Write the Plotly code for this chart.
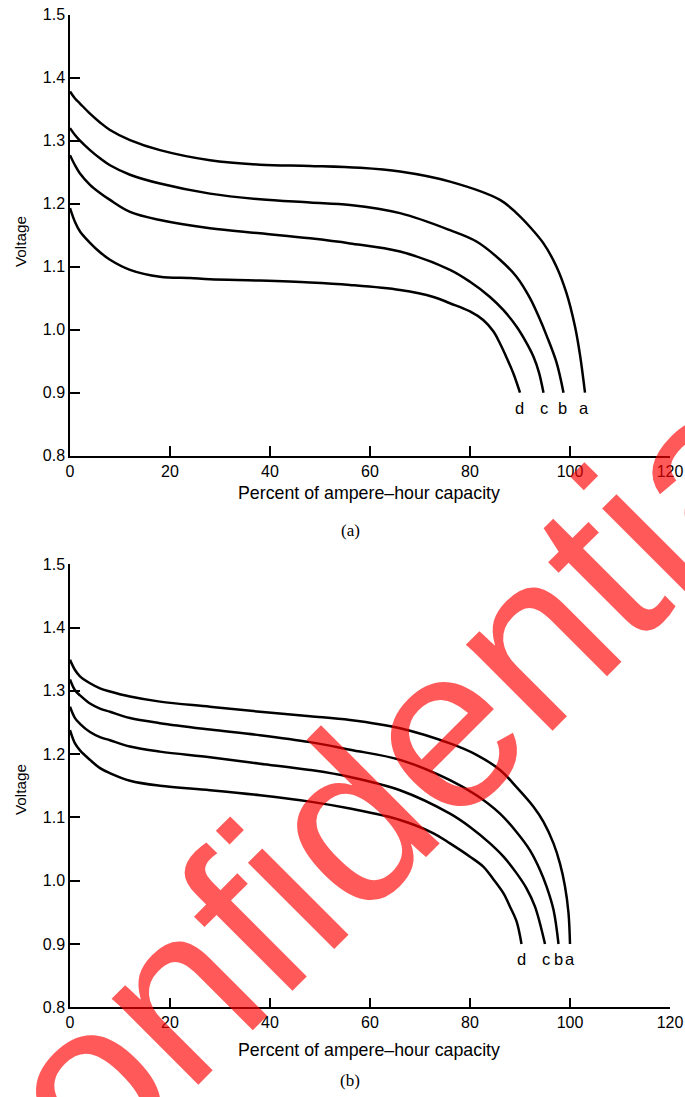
import plotly.graph_objects as go

# ---- Panel (a) data ----
a_top_x = [0, 1, 2, 4, 6, 8, 12, 18, 28, 38, 48, 58, 66, 76, 86, 89.3, 92, 94.7, 97.3, 99.3, 101, 102, 103]
a_top_y = [1.378, 1.367, 1.359, 1.343, 1.329, 1.317, 1.301, 1.285, 1.269, 1.262, 1.260, 1.257, 1.251, 1.235,
           1.206, 1.185, 1.163, 1.137, 1.100, 1.058, 1.005, 0.960, 0.90]
b_top_x = [0, 1, 2, 4, 6, 8, 12, 18, 28, 38, 48, 56, 66, 76, 81.3, 86, 89.3, 92, 94, 95.3, 97.3, 98.7]
b_top_y = [1.320, 1.309, 1.300, 1.285, 1.272, 1.261, 1.246, 1.232, 1.216, 1.207, 1.202, 1.198, 1.185, 1.158,
           1.140, 1.111, 1.084, 1.050, 1.016, 0.991, 0.948, 0.90]
c_top_x = [0, 1, 2, 4, 6, 8, 12, 18, 28, 38, 48, 56, 66, 76, 80, 84, 86.7, 89.3, 91.3, 92.7, 93.8, 94.7]
c_top_y = [1.277, 1.261, 1.248, 1.230, 1.217, 1.206, 1.187, 1.174, 1.161, 1.153, 1.145, 1.137, 1.124, 1.095,
           1.076, 1.052, 1.031, 1.005, 0.979, 0.957, 0.932, 0.90]
d_top_x = [0, 1, 2, 4, 6, 8, 12, 18, 24, 28, 38, 48, 56, 66, 72.7, 76, 80, 82.7, 84.7, 86, 87.3, 88.7, 90]
d_top_y = [1.193, 1.171, 1.156, 1.138, 1.123, 1.111, 1.095, 1.084, 1.082, 1.080, 1.078, 1.075, 1.071, 1.063,
           1.052, 1.042, 1.029, 1.015, 0.997, 0.978, 0.956, 0.930, 0.90]

# ---- Panel (b) data ----
a_bot_x = [0, 1, 2, 4, 6, 8, 12, 18, 28, 38, 48, 56, 66, 76, 81.3, 86, 89.3, 92.7, 94.7, 96.7, 98, 99, 99.7, 100]
a_bot_y = [1.349, 1.333, 1.323, 1.312, 1.304, 1.299, 1.291, 1.283, 1.275, 1.267, 1.260, 1.254, 1.241, 1.217,
           1.199, 1.175, 1.148, 1.117, 1.093, 1.059, 1.027, 0.991, 0.949, 0.90]
b_bot_x = [0, 1, 2, 4, 6, 8, 12, 18, 28, 38, 48, 56, 66, 76, 81.3, 86, 89.3, 92, 94, 95.3, 96.7, 97.7]
b_bot_y = [1.318, 1.301, 1.293, 1.280, 1.272, 1.267, 1.257, 1.249, 1.239, 1.230, 1.219, 1.207, 1.191, 1.159,
           1.135, 1.106, 1.077, 1.048, 1.017, 0.991, 0.954, 0.90]
c_bot_x = [0, 1, 2, 4, 6, 8, 12, 18, 28, 38, 48, 56, 66, 76, 80, 84, 86.7, 89.3, 91.3, 93, 95]
c_bot_y = [1.275, 1.257, 1.248, 1.235, 1.227, 1.222, 1.212, 1.204, 1.195, 1.185, 1.175, 1.164, 1.143, 1.106,
           1.085, 1.059, 1.038, 1.012, 0.988, 0.959, 0.90]
d_bot_x = [0, 1, 2, 4, 6, 8, 12, 18, 28, 38, 48, 56, 66, 72.7, 76, 80, 82.7, 84.7, 86.7, 88, 89.3, 90.3]
d_bot_y = [1.238, 1.217, 1.206, 1.191, 1.178, 1.170, 1.158, 1.150, 1.143, 1.135, 1.125, 1.114, 1.096, 1.075,
           1.059, 1.038, 1.022, 1.002, 0.980, 0.959, 0.936, 0.90]

curve_names = ["a", "b", "c", "d"]
label_y = 0.876
top_label_x = [102.8, 98.5, 94.8, 89.9]
bot_label_x = [100.0, 97.7, 95.2, 90.3]

x_ticks = [0, 20, 40, 60, 80, 100, 120]
y_ticks = [0.8, 0.9, 1.0, 1.1, 1.2, 1.3, 1.4, 1.5]

W, H = 685, 1097
FONT = "Liberation Sans, Arial, Helvetica, sans-serif"

fig = go.Figure()
top_sets = [(a_top_x, a_top_y), (b_top_x, b_top_y), (c_top_x, c_top_y), (d_top_x, d_top_y)]
bot_sets = [(a_bot_x, a_bot_y), (b_bot_x, b_bot_y), (c_bot_x, c_bot_y), (d_bot_x, d_bot_y)]
for name, (xs, ys) in zip(curve_names, top_sets):
    fig.add_trace(go.Scatter(x=xs, y=ys, mode="lines", name=name, xaxis="x", yaxis="y",
                             line=dict(color="black", width=2.5, shape="spline", smoothing=1.0),
                             showlegend=False))
for name, (xs, ys) in zip(curve_names, bot_sets):
    fig.add_trace(go.Scatter(x=xs, y=ys, mode="lines", name=name, xaxis="x2", yaxis="y2",
                             line=dict(color="black", width=2.5, shape="spline", smoothing=1.0),
                             showlegend=False))

def px_x(p):
    return p / W

def px_y(p):
    return 1 - p / H

axis_common = dict(showline=True, linecolor="black", linewidth=1.5, ticks="inside", ticklen=10,
                   tickwidth=1.5, tickcolor="black", showgrid=False, zeroline=False,
                   tickfont=dict(family=FONT, size=16, color="black"), automargin=False)

fig.update_layout(
    width=W, height=H,
    margin=dict(l=0, r=0, t=0, b=0),
    paper_bgcolor="white", plot_bgcolor="white",
    xaxis=dict(domain=[px_x(70), px_x(670)], range=[0, 120], tickvals=x_ticks, anchor="y", **axis_common),
    yaxis=dict(domain=[px_y(455.7), px_y(14.7)], range=[0.8, 1.5], tickvals=y_ticks, tickformat=".1f",
               anchor="x", **axis_common),
    xaxis2=dict(domain=[px_x(70), px_x(670)], range=[0, 120], tickvals=x_ticks, anchor="y2", **axis_common),
    yaxis2=dict(domain=[px_y(1007.3), px_y(564.3)], range=[0.8, 1.5], tickvals=y_ticks, tickformat=".1f",
                anchor="x2", **axis_common),
)

ann = []
for name, lx in zip(curve_names, top_label_x):
    ann.append(dict(x=lx, y=label_y, xref="x", yref="y", text=name, showarrow=False,
                    xanchor="center", yanchor="middle",
                    font=dict(family=FONT, size=16.5, color="black")))
for name, lx in zip(curve_names, bot_label_x):
    ann.append(dict(x=lx, y=label_y, xref="x2", yref="y2", text=name, showarrow=False,
                    xanchor="center", yanchor="middle",
                    font=dict(family=FONT, size=16.5, color="black")))

for ycen_title, ycen_volt, ycen_cap, cap in [(493, 242, 530, "(a)"), (1050, 790, 1080, "(b)")]:
    ann.append(dict(x=px_x(369), y=px_y(ycen_title), xref="paper", yref="paper",
                    xanchor="center", yanchor="middle",
                    text="Percent of ampere\u2013hour capacity", showarrow=False,
                    font=dict(family=FONT, size=17.8, color="black")))
    ann.append(dict(x=px_x(20), y=px_y(ycen_volt), xref="paper", yref="paper", text="Voltage",
                    xanchor="center", yanchor="middle",
                    textangle=-90, showarrow=False, font=dict(family=FONT, size=15.3, color="black")))
    ann.append(dict(x=px_x(350), y=px_y(ycen_cap), xref="paper", yref="paper", text=cap,
                    xanchor="center", yanchor="middle",
                    showarrow=False, font=dict(family="Liberation Serif, Times New Roman, serif", size=17,
                                               color="black")))

# watermark
ann.append(dict(x=px_x(353), y=px_y(817), xref="paper", yref="paper", text="Confidential",
                xanchor="center", yanchor="middle",
                textangle=-45, showarrow=False,
                font=dict(family=FONT, size=231, color="rgba(255,0,0,0.65)")))

fig.update_layout(annotations=ann)
fig.write_html("out.html")
